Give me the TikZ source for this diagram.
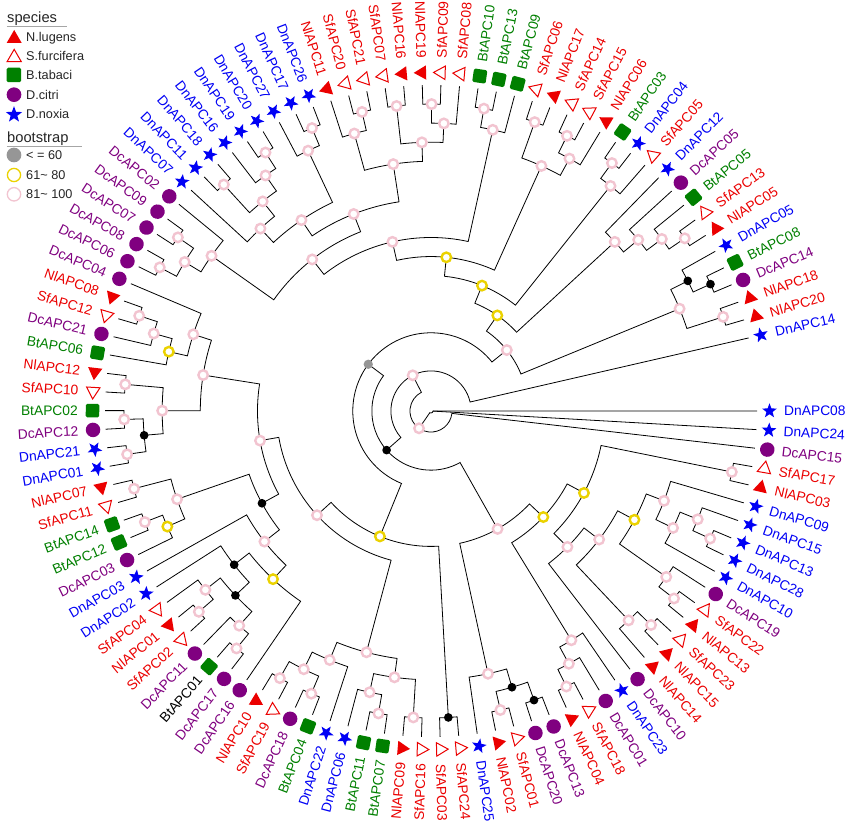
\documentclass[tikz,border=0pt]{standalone}
\usepackage{fontspec}
\setmainfont{Liberation Sans}
\usetikzlibrary{shapes.geometric}
\pgfdeclarelayer{fg}
\pgfsetlayers{main,fg}
\definecolor{cNl}{RGB}{235,0,0}
\definecolor{cSf}{RGB}{235,0,0}
\definecolor{cBt}{RGB}{0,128,0}
\definecolor{cDc}{RGB}{128,0,128}
\definecolor{cDn}{RGB}{0,0,245}
\definecolor{cPk}{RGB}{242,196,208}
\definecolor{cYw}{RGB}{235,210,0}
\definecolor{cGy}{RGB}{150,150,150}
\tikzset{
  branch/.style={line width=0.8pt, black},
  mknl/.style={regular polygon, regular polygon sides=3, minimum size=16.5pt, inner sep=0pt, fill=cNl},
  mksf/.style={regular polygon, regular polygon sides=3, minimum size=15.5pt, inner sep=0pt, fill=white, draw=cSf, line width=1pt},
  mkbt/.style={rectangle, minimum size=13.5pt, inner sep=0pt, fill=cBt, rounded corners=1.5pt},
  mkdc/.style={circle, minimum size=14.5pt, inner sep=0pt, fill=cDc},
  mkdn/.style={star, star points=5, star point ratio=2.4, minimum size=15.5pt, inner sep=0pt, fill=cDn},
  pk/.style={circle, draw=cPk, fill=white, line width=2.4pt, minimum size=9.5pt, inner sep=0pt},
  yw/.style={circle, draw=cYw, fill=white, line width=2.4pt, minimum size=9.5pt, inner sep=0pt},
  bk/.style={circle, fill=black, minimum size=8.7pt, inner sep=0pt},
  gy/.style={circle, fill=cGy, minimum size=9.3pt, inner sep=0pt},
  lbl/.style={font=\fontsize{13.8}{16}\selectfont, inner sep=0pt, text height=9.9pt, text depth=0pt},
  legt/.style={font=\fontsize{12.7}{15}\selectfont, inner sep=0pt, anchor=base west, text=black!85},
  legh/.style={font=\fontsize{14.7}{17}\selectfont, inner sep=0pt, anchor=base west, text=black!85},
}
\newcommand\leaf[4]{%
  \pgfmathsetmacro\tzA{-(#2-1)*3.274}%
  \expandafter\xdef\csname A@#1\endcsname{\tzA}%
  \expandafter\xdef\csname H@#1\endcsname{0}%
  \pgfmathtruncatemacro\tzS{cos(\tzA)>=0}%
  \pgfmathsetmacro\tzT{\tzA+180}%
  \begin{pgfonlayer}{fg}\node[mk#3, rotate=\tzA] (m#1) at (\tzA:338.5pt) {};\end{pgfonlayer}%
  \ifnum\tzS=1
    \node[lbl, text=#4, rotate=\tzA, anchor=west] (t#1) at (\tzA:353pt) {#1};%
  \else
    \node[lbl, text=#4, rotate=\tzT, anchor=east] (t#1) at (\tzA:353pt) {#1};%
  \fi
}
\newcommand\inode[4]{%
  \edef\tzA{\csname A@#2\endcsname}%
  \edef\tzB{\csname A@#3\endcsname}%
  \edef\tzHa{\csname H@#2\endcsname}%
  \edef\tzHb{\csname H@#3\endcsname}%
  \pgfmathtruncatemacro\tzH{max(\tzHa,\tzHb)+1}%
  \pgfmathsetmacro\tzR{326-19.06*\tzH}%
  \pgfmathsetmacro\tzRa{326-19.06*\tzHa}%
  \pgfmathsetmacro\tzRb{326-19.06*\tzHb}%
  \pgfmathsetmacro\tzM{(\tzA+\tzB)/2}%
  \expandafter\xdef\csname A@#1\endcsname{\tzM}%
  \expandafter\xdef\csname H@#1\endcsname{\tzH}%
  \draw[branch] (\tzA:\tzRa pt) -- (\tzA:\tzR pt) arc[start angle=\tzA, end angle=\tzB, radius=\tzR pt] -- (\tzB:\tzRb pt);%
  \coordinate (#1) at (\tzM:\tzR pt);%
  \begin{pgfonlayer}{fg}\node[#4] (k#1) at (\tzM:\tzR pt) {};\end{pgfonlayer}%
}
\begin{document}
\begin{tikzpicture}
\useasboundingbox (-431pt,-419pt) rectangle (419pt,411pt);
\fill[white] (-431pt,-419pt) rectangle (419pt,411pt);
% leaves
\leaf{DnAPC08}{1}{dn}{cDn}
\leaf{DnAPC24}{2}{dn}{cDn}
\leaf{DcAPC15}{3}{dc}{cDc}
\leaf{SfAPC17}{4}{sf}{cSf}
\leaf{NlAPC03}{5}{nl}{cNl}
\leaf{DnAPC09}{6}{dn}{cDn}
\leaf{DnAPC15}{7}{dn}{cDn}
\leaf{DnAPC13}{8}{dn}{cDn}
\leaf{DnAPC28}{9}{dn}{cDn}
\leaf{DnAPC10}{10}{dn}{cDn}
\leaf{DcAPC19}{11}{dc}{cDc}
\leaf{SfAPC22}{12}{sf}{cSf}
\leaf{NlAPC13}{13}{nl}{cNl}
\leaf{SfAPC23}{14}{sf}{cSf}
\leaf{NlAPC15}{15}{nl}{cNl}
\leaf{NlAPC14}{16}{nl}{cNl}
\leaf{DcAPC10}{17}{dc}{cDc}
\leaf{DnAPC23}{18}{dn}{cDn}
\leaf{DcAPC01}{19}{dc}{cDc}
\leaf{SfAPC18}{20}{sf}{cSf}
\leaf{NlAPC04}{21}{nl}{cNl}
\leaf{DcAPC13}{22}{dc}{cDc}
\leaf{DcAPC20}{23}{dc}{cDc}
\leaf{SfAPC01}{24}{sf}{cSf}
\leaf{NlAPC02}{25}{nl}{cNl}
\leaf{DnAPC25}{26}{dn}{cDn}
\leaf{SfAPC24}{27}{sf}{cSf}
\leaf{SfAPC03}{28}{sf}{cSf}
\leaf{SfAPC16}{29}{sf}{cSf}
\leaf{NlAPC09}{30}{nl}{cNl}
\leaf{BtAPC07}{31}{bt}{cBt}
\leaf{BtAPC11}{32}{bt}{cBt}
\leaf{DnAPC06}{33}{dn}{cDn}
\leaf{DnAPC22}{34}{dn}{cDn}
\leaf{BtAPC04}{35}{bt}{cBt}
\leaf{DcAPC18}{36}{dc}{cDc}
\leaf{SfAPC19}{37}{sf}{cSf}
\leaf{NlAPC10}{38}{nl}{cNl}
\leaf{DcAPC16}{39}{dc}{cDc}
\leaf{DcAPC17}{40}{dc}{cDc}
\leaf{BtAPC01}{41}{bt}{black}
\leaf{DcAPC11}{42}{dc}{cDc}
\leaf{SfAPC02}{43}{sf}{cSf}
\leaf{NlAPC01}{44}{nl}{cNl}
\leaf{SfAPC04}{45}{sf}{cSf}
\leaf{DnAPC02}{46}{dn}{cDn}
\leaf{DnAPC03}{47}{dn}{cDn}
\leaf{DcAPC03}{48}{dc}{cDc}
\leaf{BtAPC12}{49}{bt}{cBt}
\leaf{BtAPC14}{50}{bt}{cBt}
\leaf{SfAPC11}{51}{sf}{cSf}
\leaf{NlAPC07}{52}{nl}{cNl}
\leaf{DnAPC01}{53}{dn}{cDn}
\leaf{DnAPC21}{54}{dn}{cDn}
\leaf{DcAPC12}{55}{dc}{cDc}
\leaf{BtAPC02}{56}{bt}{cBt}
\leaf{SfAPC10}{57}{sf}{cSf}
\leaf{NlAPC12}{58}{nl}{cNl}
\leaf{BtAPC06}{59}{bt}{cBt}
\leaf{DcAPC21}{60}{dc}{cDc}
\leaf{SfAPC12}{61}{sf}{cSf}
\leaf{NlAPC08}{62}{nl}{cNl}
\leaf{DcAPC04}{63}{dc}{cDc}
\leaf{DcAPC06}{64}{dc}{cDc}
\leaf{DcAPC08}{65}{dc}{cDc}
\leaf{DcAPC07}{66}{dc}{cDc}
\leaf{DcAPC09}{67}{dc}{cDc}
\leaf{DcAPC02}{68}{dc}{cDc}
\leaf{DnAPC07}{69}{dn}{cDn}
\leaf{DnAPC11}{70}{dn}{cDn}
\leaf{DnAPC18}{71}{dn}{cDn}
\leaf{DnAPC16}{72}{dn}{cDn}
\leaf{DnAPC19}{73}{dn}{cDn}
\leaf{DnAPC20}{74}{dn}{cDn}
\leaf{DnAPC27}{75}{dn}{cDn}
\leaf{DnAPC17}{76}{dn}{cDn}
\leaf{DnAPC26}{77}{dn}{cDn}
\leaf{NlAPC11}{78}{nl}{cNl}
\leaf{SfAPC20}{79}{sf}{cSf}
\leaf{SfAPC21}{80}{sf}{cSf}
\leaf{SfAPC07}{81}{sf}{cSf}
\leaf{NlAPC16}{82}{nl}{cNl}
\leaf{NlAPC19}{83}{nl}{cNl}
\leaf{SfAPC09}{84}{sf}{cSf}
\leaf{SfAPC08}{85}{sf}{cSf}
\leaf{BtAPC10}{86}{bt}{cBt}
\leaf{BtAPC13}{87}{bt}{cBt}
\leaf{BtAPC09}{88}{bt}{cBt}
\leaf{SfAPC06}{89}{sf}{cSf}
\leaf{NlAPC17}{90}{nl}{cNl}
\leaf{SfAPC14}{91}{sf}{cSf}
\leaf{SfAPC15}{92}{sf}{cSf}
\leaf{NlAPC06}{93}{nl}{cNl}
\leaf{BtAPC03}{94}{bt}{cBt}
\leaf{DnAPC04}{95}{dn}{cDn}
\leaf{SfAPC05}{96}{sf}{cSf}
\leaf{DnAPC12}{97}{dn}{cDn}
\leaf{DcAPC05}{98}{dc}{cDc}
\leaf{BtAPC05}{99}{bt}{cBt}
\leaf{SfAPC13}{100}{sf}{cSf}
\leaf{NlAPC05}{101}{nl}{cNl}
\leaf{DnAPC05}{102}{dn}{cDn}
\leaf{BtAPC08}{103}{bt}{cBt}
\leaf{DcAPC14}{104}{dc}{cDc}
\leaf{NlAPC18}{105}{nl}{cNl}
\leaf{NlAPC20}{106}{nl}{cNl}
\leaf{DnAPC14}{107}{dn}{cDn}
% upper clades
\inode{nd}{SfAPC13}{NlAPC05}{pk}
\inode{nc}{BtAPC05}{nd}{pk}
\inode{nb}{DcAPC05}{nc}{pk}
\inode{na}{DnAPC12}{nb}{pk}
\inode{bkb}{BtAPC08}{DcAPC14}{bk}
\inode{bka}{DnAPC05}{bkb}{bk}
\inode{nX}{NlAPC18}{NlAPC20}{pk}
\inode{P1}{bka}{nX}{pk}
\inode{f1}{BtAPC03}{DnAPC04}{pk}
\inode{nf}{SfAPC05}{f1}{pk}
\inode{g1}{SfAPC06}{NlAPC17}{pk}
\inode{g21}{SfAPC14}{SfAPC15}{pk}
\inode{g2}{g21}{NlAPC06}{pk}
\inode{ng}{g1}{g2}{pk}
\inode{bt1}{BtAPC10}{BtAPC13}{pk}
\inode{bt}{bt1}{BtAPC09}{pk}
\inode{i11}{SfAPC07}{NlAPC16}{pk}
\inode{i12a}{NlAPC19}{SfAPC09}{pk}
\inode{i12}{i12a}{SfAPC08}{pk}
\inode{i1}{i11}{i12}{pk}
\inode{i21}{SfAPC20}{SfAPC21}{pk}
\inode{i2}{NlAPC11}{i21}{pk}
\inode{ni}{i1}{i2}{pk}
\inode{s1}{DnAPC17}{DnAPC26}{pk}
\inode{ns}{DnAPC27}{s1}{pk}
\inode{nq}{DnAPC19}{DnAPC20}{pk}
\inode{npp}{DnAPC16}{nq}{pk}
\inode{o1}{DnAPC11}{DnAPC18}{pk}
\inode{no}{o1}{npp}{pk}
\inode{nn}{no}{DnAPC07}{pk}
\inode{nk}{ns}{nn}{pk}
\inode{nj}{ni}{nk}{pk}
\inode{t1}{DcAPC09}{DcAPC07}{pk}
\inode{t2}{DcAPC08}{DcAPC06}{pk}
\inode{nt}{t1}{t2}{pk}
\inode{nm}{DcAPC02}{nt}{pk}
\inode{njp}{nj}{nm}{pk}
\inode{nh}{bt}{njp}{pk}
\inode{Y3}{ng}{nh}{yw}
\inode{Y2}{nf}{Y3}{yw}
\inode{Y1}{na}{Y2}{yw}
\inode{P2}{P1}{Y1}{pk}
% left clades
\inode{L1}{NlAPC08}{SfAPC12}{pk}
\inode{L2}{L1}{DcAPC21}{pk}
\inode{L3}{L2}{BtAPC06}{yw}
\inode{L4}{DcAPC04}{L3}{pk}
\inode{L5}{NlAPC12}{SfAPC10}{pk}
\inode{L6}{BtAPC02}{DcAPC12}{pk}
\inode{L7}{DnAPC21}{DnAPC01}{pk}
\inode{L8}{L6}{L7}{bk}
\inode{L9}{L5}{L8}{pk}
\inode{L10}{L4}{L9}{pk}
\inode{M1}{NlAPC07}{SfAPC11}{pk}
\inode{M2}{BtAPC14}{BtAPC12}{pk}
\inode{M3}{M2}{DcAPC03}{yw}
\inode{M4}{M1}{M3}{pk}
\inode{Q1}{NlAPC01}{SfAPC02}{pk}
\inode{Q2}{SfAPC04}{Q1}{pk}
\inode{Q3}{BtAPC01}{DcAPC17}{pk}
\inode{Q4}{DcAPC11}{Q3}{pk}
\inode{Q5}{Q2}{Q4}{bk}
\inode{Q6}{DnAPC02}{Q5}{bk}
\inode{Q7}{Q6}{DcAPC16}{yw}
\inode{Q8}{DnAPC03}{Q7}{pk}
\inode{M5}{M4}{Q8}{bk}
\inode{L11}{L10}{M5}{pk}
\inode{R1}{NlAPC10}{SfAPC19}{pk}
\inode{R2}{DcAPC18}{BtAPC04}{pk}
\inode{R3}{R1}{R2}{pk}
\inode{R4}{R3}{DnAPC22}{pk}
\inode{R5}{BtAPC11}{BtAPC07}{pk}
\inode{R6}{DnAPC06}{R5}{pk}
\inode{R7}{NlAPC09}{SfAPC16}{pk}
\inode{R8}{R6}{R7}{pk}
\inode{R9}{R4}{R8}{pk}
\inode{P156}{L11}{R9}{pk}
\inode{S1}{SfAPC03}{SfAPC24}{bk}
\inode{Y5}{P156}{S1}{yw}
\inode{G}{P2}{Y5}{gy}
% lower right clades
\inode{T1}{NlAPC02}{SfAPC01}{pk}
\inode{T2}{DcAPC20}{DcAPC13}{bk}
\inode{T3}{T1}{T2}{bk}
\inode{x1}{DnAPC25}{T3}{pk}
\inode{U1}{NlAPC04}{SfAPC18}{pk}
\inode{U2}{U1}{DcAPC01}{pk}
\inode{U3}{U2}{DnAPC23}{pk}
\inode{V1}{SfAPC17}{NlAPC03}{pk}
\inode{W1}{NlAPC15}{SfAPC23}{pk}
\inode{W2}{NlAPC14}{W1}{pk}
\inode{W3}{NlAPC13}{SfAPC22}{pk}
\inode{W4}{W3}{DcAPC19}{pk}
\inode{W5}{DnAPC28}{DnAPC13}{pk}
\inode{W6}{W5}{DnAPC15}{pk}
\inode{W7}{DnAPC10}{W6}{pk}
\inode{W8}{W7}{DnAPC09}{pk}
\inode{Y8}{W4}{W8}{yw}
\inode{W9}{W2}{Y8}{pk}
\inode{W10}{DcAPC10}{W9}{pk}
\inode{Y7}{W10}{V1}{yw}
\inode{Y4}{U3}{Y7}{yw}
\inode{nv}{x1}{Y4}{pk}
\inode{nB}{G}{nv}{bk}
\inode{nu}{DnAPC14}{nB}{pk}
\inode{w3}{DcAPC15}{nu}{pk}
% root (three children)
\edef\tzA{\csname A@DnAPC08\endcsname}
\edef\tzB{\csname A@w3\endcsname}
\edef\tzC{\csname A@DnAPC24\endcsname}
\coordinate (root) at (0,0);
\draw[branch] (\tzA:326pt) -- (\tzA:2pt) arc[start angle=\tzA, end angle=\tzB, radius=2pt] -- (\tzB:21pt);
\draw[branch] (\tzC:2pt) -- (\tzC:326pt);
% legend
\begin{scope}[shift={(-431pt,411pt)}, x=1pt, y=-1pt]
  \node[legh] (lsp) at (7,22.5) {species};
  \draw[gray!70, line width=0.8pt] (7,26.5) -- (67,26.5);
  \node[mknl, minimum size=17.3pt] (lg1) at (14.2,38.6) {};
  \node[legt] (lt1) at (26,41.5) {N.lugens};
  \node[mksf, minimum size=16.5pt] (lg2) at (14.2,57.6) {};
  \node[legt] (lt2) at (26,60.8) {S.furcifera};
  \node[mkbt, minimum size=14.5pt] (lg3) at (14,75) {};
  \node[legt] (lt3) at (26,80) {B.tabaci};
  \node[mkdc, minimum size=14.7pt] (lg4) at (14,94.7) {};
  \node[legt] (lt4) at (26,99.2) {D.citri};
  \node[mkdn, minimum size=17pt] (lg5) at (14,114.7) {};
  \node[legt] (lt5) at (26,118.5) {D.noxia};
  \node[legh] (lbs) at (7,142.5) {bootstrap};
  \draw[gray!70, line width=0.8pt] (7,146) -- (82,146);
  \node[gy, minimum size=14.7pt] (lg6) at (14,155) {};
  \node[legt] (lt6) at (26,159.8) {< = 60};
  \node[circle, draw=cYw, fill=white, line width=1.3pt, minimum size=13.2pt, inner sep=0pt] (lg7) at (14,175) {};
  \node[legt] (lt7) at (26,179.5) {61\textasciitilde{} 80};
  \node[circle, draw=cPk, fill=white, line width=1.3pt, minimum size=13.4pt, inner sep=0pt] (lg8) at (14,194.3) {};
  \node[legt] (lt8) at (26,199) {81\textasciitilde{} 100};
\end{scope}
\end{tikzpicture}
\end{document}
